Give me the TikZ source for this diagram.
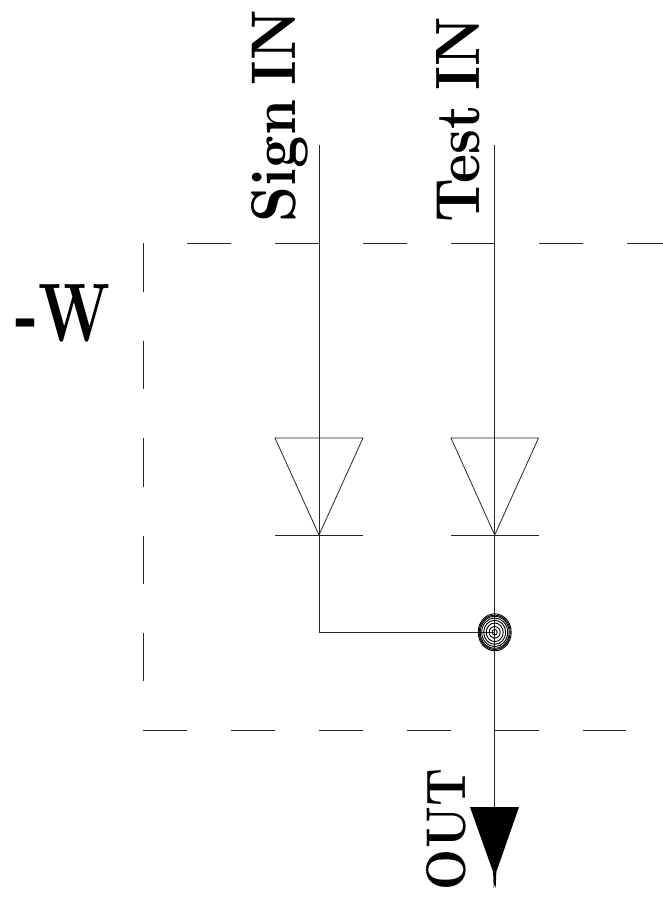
\documentclass[tikz,border=0pt]{standalone}
\usepackage{graphicx}
\newcommand{\heavy}{\bfseries\spaceskip=0.26em\relax}
\begin{document}
\begin{tikzpicture}[x=1pt,y=-1pt,
  wire/.style={line width=0.8pt,black!85},
  boxh/.style={wire,dash pattern=on 44pt off 44pt},
  boxv/.style={wire,dash pattern=on 48.5pt off 49pt},
  lbl/.style={inner sep=0pt,outer sep=0pt,anchor=base west,font=\heavy},
  ring/.style={line width=0.9pt,black}]
\useasboundingbox (0,0) rectangle (663,899);
% dashed group box
\coordinate (bl) at (143,730);
\coordinate (blend) at (626,730);
\coordinate (tl) at (187,243);
\coordinate (tr) at (663,243);
\coordinate (lt) at (143,243);
\coordinate (lb) at (143,681);
\draw[boxh] (tl) -- (tr);
\draw[boxh] (bl) -- (blend);
\draw[boxv] (lt) -- (lb);
% wires
\coordinate (s0) at (319,145);
\coordinate (t0) at (494.7,145);
\coordinate (sA) at (319,438);
\coordinate (tA) at (494.7,438);
\coordinate (sK) at (319,535);
\coordinate (tK) at (494.7,535);
\coordinate (sC) at (319,632);
\coordinate (J) at (494.7,632.3);
\coordinate (out) at (494.7,807);
\draw[wire] (s0) -- (sA);
\draw[wire] (t0) -- (tA);
\draw[wire] (sA) -- (sK);
\draw[wire] (tA) -- (tK);
\draw[wire] (sK) -- (sC) -- (sC -| J);
\draw[wire] (tK) -- (out);
% diodes
\draw[wire] (275,438) -- (363,438) -- (sK) -- cycle;
\draw[wire] (275,535) -- (363,535);
\draw[wire] (451,438) -- (538.5,438) -- (tK) -- cycle;
\draw[wire] (451,535) -- (538.5,535);
% junction
\foreach \r/\s in {2.5/2.8,5.5/6,8.5/9.3,11/12,13/14.3,14.5/16,15.5/17.2,16.5/18.5}
  \draw[ring] (J) ellipse ({\r} and {\s});
% arrowhead
\fill[black] (470,807) -- (519,807) -- (496.3,872) -- (495.7,888) -- (494.7,884) -- (493.7,888) -- (493.1,872) -- cycle;
% labels
\node[lbl,rotate=90] (sign) at (295,222) {\resizebox{212pt}{44pt}{Sign IN}};
\node[lbl,rotate=90] (test) at (479,222) {\resizebox{205pt}{43pt}{Test IN}};
\node[lbl,rotate=90] (outl) at (465,890) {\resizebox{121pt}{39pt}{OUT}};
\node[lbl] (w) at (15,341) {\resizebox{95pt}{57pt}{-W}};
\end{tikzpicture}
\end{document}
